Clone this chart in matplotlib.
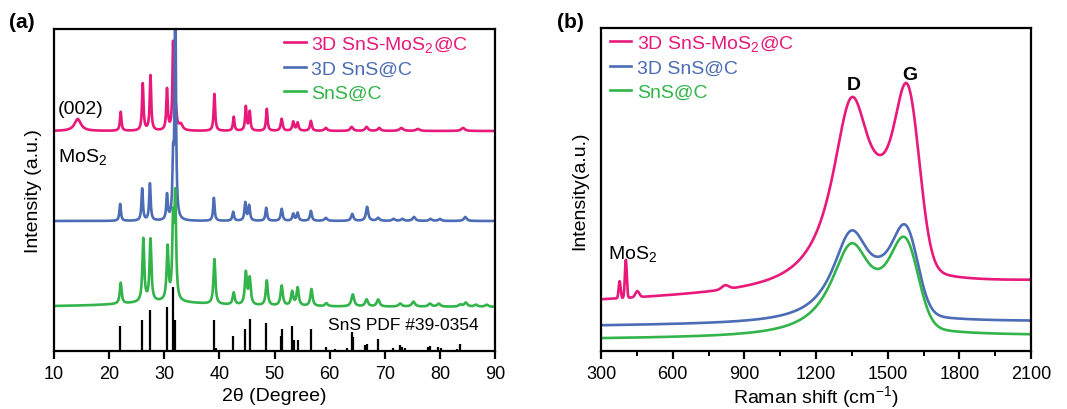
import numpy as np
import matplotlib.pyplot as plt

plt.rcParams["font.family"] = ["Liberation Sans", "DejaVu Sans"]
plt.rcParams["mathtext.fontset"] = "custom"
plt.rcParams["mathtext.rm"] = "Liberation Sans"
plt.rcParams["mathtext.it"] = "Liberation Sans:italic"

PINK = "#E8197B"
BLUE = "#4C6CB5"
GREEN = "#33B44A"

labels = ["3D SnS-MoS$_2$@C", "3D SnS@C", "SnS@C"]

# ---- XRD (a): peak tables (position deg, height, half width)
pink_base = 220
pink_pos = [14.3, 22.1, 26.1, 27.5, 30.5, 31.6, 32.1, 33.0, 39.1, 42.6, 44.8, 45.5,
            48.6, 51.3, 53.4, 54.2, 56.6, 59.3, 64.0, 66.7, 69.0, 73.0, 76.0, 84.2]
pink_amp = [12, 19, 47, 55, 41, 86, 20, 6, 37, 14, 24, 19,
            22, 12, 9, 8, 10, 3, 4, 4, 3, 3, 2, 3]
pink_wid = [0.7, 0.16, 0.16, 0.16, 0.16, 0.14, 0.2, 0.4, 0.16, 0.16, 0.16, 0.16,
            0.16, 0.2, 0.2, 0.2, 0.2, 0.3, 0.3, 0.3, 0.3, 0.4, 0.4, 0.4]

blue_base = 130
blue_pos = [22.0, 26.0, 27.4, 30.5, 31.6, 32.0, 39.0, 42.5, 44.7, 45.4, 48.5, 51.3,
            53.4, 54.2, 56.6, 59.3, 64.1, 66.8, 68.8, 71.6, 73.2, 75.3, 78.3, 80.0, 84.6]
blue_amp = [17, 32, 37, 25, 52, 230, 23, 9, 18, 15, 13, 12,
            7, 8, 10, 3, 7, 14, 3, 2, 2, 4, 2, 2, 4]
blue_wid = [0.16, 0.16, 0.16, 0.16, 0.14, 0.14, 0.16, 0.18, 0.18, 0.18, 0.18, 0.2,
            0.2, 0.2, 0.2, 0.3, 0.25, 0.25, 0.3, 0.3, 0.3, 0.3, 0.3, 0.3, 0.3]

green_base = 44
green_pos = [30.0, 22.1, 26.2, 27.5, 30.6, 31.6, 32.0, 39.1, 42.6, 44.8, 45.5, 48.6,
             51.3, 53.2, 54.2, 56.7, 59.4, 64.2, 66.7, 68.8, 72.8, 75.2, 78.2, 79.8,
             83.7, 84.7, 86.5, 88.5]
green_amp = [5, 21, 63, 62, 53, 75, 100, 45, 12, 32, 26, 25,
             20, 14, 18, 17, 3, 12, 7, 7, 3, 5, 3, 3, 2, 4, 2, 2]
green_wid = [10.0, 0.2, 0.2, 0.2, 0.2, 0.18, 0.18, 0.2, 0.22, 0.22, 0.22, 0.22,
             0.24, 0.24, 0.24, 0.24, 0.3, 0.3, 0.3, 0.3, 0.35, 0.35, 0.35, 0.35,
             0.35, 0.35, 0.35, 0.35]

# SnS PDF #39-0354 reference lines
pdf_pos = [22.0, 26.0, 27.5, 30.5, 31.5, 32.0, 39.0, 39.3, 41.7, 42.5, 44.7, 45.5,
           48.5, 51.1, 51.4, 53.1, 53.6, 54.2, 56.7, 59.4, 60.9, 63.1, 64.0, 64.2,
           66.4, 66.8, 68.7, 71.5, 72.7, 73.2, 73.6, 77.8, 78.2, 79.7, 80.2, 83.1, 83.6]
pdf_int = [25, 31, 41, 44, 64, 31, 31, 3, 1, 15, 22, 32,
           28, 15, 22, 25, 11, 11, 22, 4, 2, 3, 19, 14,
           6, 7, 12, 3, 6, 4, 3, 4, 5, 4, 3, 2, 7]

# ---- Raman (b): baseline ends, D (Lorentzian), D3 and G (Gaussian), extra peaks
raman_base = {"pink": (50, 68), "blue": (25, 29), "green": (12, 15)}
d_pos = [1350, 1349, 1349]
d_amp = [191, 92, 93]
d_wid = [100, 97, 105]
d3_pos = [1500, 1500, 1500]
d3_amp = [55, 30, 24]
d3_wid = [60, 60, 60]
g_pos = [1588, 1582, 1580]
g_amp = [154, 71, 72]
g_wid = [48, 48, 52]
mos2_pos = [378, 404, 452, 820]
mos2_amp = [17, 38, 6, 4]
mos2_wid = [4, 4, 8, 15]


def lorentz(x, pos, amp, wid):
    y = np.zeros_like(x)
    for c, a, w in zip(pos, amp, wid):
        y += a / (1 + ((x - c) / w) ** 2)
    return y


def gauss(x, pos, amp, wid):
    y = np.zeros_like(x)
    for c, a, w in zip(pos, amp, wid):
        y += a * np.exp(-((x - c) ** 2) / (2 * w ** 2))
    return y


fig = plt.figure(figsize=(10.67, 4.10), dpi=100)
ax1 = fig.add_axes([54 / 1067, 58 / 410, 441 / 1067, 322 / 410])
ax2 = fig.add_axes([601 / 1067, 58 / 410, 430 / 1067, 323 / 410])

# ---------------- (a) XRD
tt = np.linspace(10, 90, 4001)
ax1.vlines(pdf_pos, 0, pdf_int, color="black", lw=1.6)
ax1.plot(tt, pink_base + lorentz(tt, pink_pos, pink_amp, pink_wid), color=PINK, lw=1.9, label=labels[0])
ax1.plot(tt, blue_base + lorentz(tt, blue_pos, blue_amp, blue_wid), color=BLUE, lw=1.9, label=labels[1])
ax1.plot(tt, green_base + lorentz(tt, green_pos, green_amp, green_wid), color=GREEN, lw=1.9, label=labels[2])

ax1.set_xlim(10, 90)
ax1.set_ylim(0, 322)
ax1.set_xticks(range(10, 91, 10))
ax1.set_yticks([])
ax1.set_xlabel("2θ (Degree)", fontsize=14, labelpad=4)
ax1.set_ylabel("Intensity (a.u.)", fontsize=14)
ax1.yaxis.set_label_coords(-0.028, 0.5)
ax1.text(10.7, 243, "(002)", fontsize=14, va="center", ha="left")
ax1.text(10.7, 195, "MoS$_2$", fontsize=14, va="center", ha="left")
ax1.text(73.3, 27, "SnS PDF #39-0354", fontsize=12.5, va="center", ha="center")
ax1.legend(loc="upper left", bbox_to_anchor=(0.522, 0.985), frameon=False, fontsize=14,
           handlelength=1.1, handletextpad=0.3, labelspacing=0.32, borderpad=0,
           borderaxespad=0, labelcolor="linecolor")
fig.text(22 / 1067, 1 - 22 / 410, "(a)", fontsize=15, fontweight="bold", ha="center", va="center")

# ---------------- (b) Raman
rs = np.linspace(300, 2100, 1801)
raman_colors = [PINK, BLUE, GREEN]
for i, key in enumerate(["pink", "blue", "green"]):
    b0, b1 = raman_base[key]
    y = b0 + (b1 - b0) * (rs - 300) / 1800
    y = y + lorentz(rs, [d_pos[i]], [d_amp[i]], [d_wid[i]])
    y = y + gauss(rs, [d3_pos[i]], [d3_amp[i]], [d3_wid[i]])
    y = y + gauss(rs, [g_pos[i]], [g_amp[i]], [g_wid[i]])
    if key == "pink":
        y = y + gauss(rs, mos2_pos, mos2_amp, mos2_wid)
    ax2.plot(rs, y, color=raman_colors[i], lw=1.9, label=labels[i])

ax2.set_xlim(300, 2100)
ax2.set_ylim(0, 323)
ax2.set_xticks(range(300, 2101, 300))
ax2.set_xticks(range(450, 2100, 300), minor=True)
ax2.set_yticks([])
ax2.set_xlabel("Raman shift (cm$^{-1}$)", fontsize=14, labelpad=1)
ax2.set_ylabel("Intensity(a.u.)", fontsize=14)
ax2.yaxis.set_label_coords(-0.030, 0.5)
ax2.text(329, 98, "MoS$_2$", fontsize=14, va="center", ha="left")
ax2.text(1359, 267, "D", fontsize=14, fontweight="bold", va="center", ha="center")
ax2.text(1593, 277, "G", fontsize=14, fontweight="bold", va="center", ha="center")
ax2.legend(loc="upper left", bbox_to_anchor=(0.02, 0.985), frameon=False, fontsize=14,
           handlelength=1.1, handletextpad=0.3, labelspacing=0.32, borderpad=0,
           borderaxespad=0, labelcolor="linecolor")
fig.text(570 / 1067, 1 - 23 / 410, "(b)", fontsize=15, fontweight="bold", ha="center", va="center")

for ax in (ax1, ax2):
    for s in ax.spines.values():
        s.set_linewidth(1.6)
    ax.tick_params(axis="x", which="major", direction="out", length=6, width=1.6, labelsize=13, pad=4)
    ax.tick_params(axis="x", which="minor", direction="out", length=3.5, width=1.4)

fig.savefig("out.png", dpi=100)
